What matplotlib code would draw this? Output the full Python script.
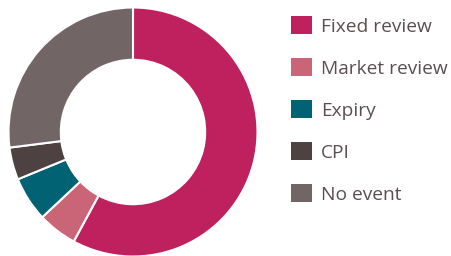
import matplotlib
matplotlib.use("Agg")
import matplotlib.pyplot as plt
from matplotlib.patches import Patch

categories = ["Fixed review", "Market review", "Expiry", "CPI", "No event"]
values = [57.9, 5.1, 5.8, 4.2, 27.0]
colors = ["#BE215E", "#C96577", "#006273", "#4D4142", "#726566"]

W, H = 451, 256
fig = plt.figure(figsize=(W / 100, H / 100), dpi=100)
cx, cy, r = 133, 132, 124.5
ax = fig.add_axes([(cx - r) / W, (H - cy - r) / H, 2 * r / W, 2 * r / H])
ax.pie(values, colors=colors, startangle=90, counterclock=False, radius=1,
       wedgeprops=dict(width=0.42, edgecolor="white", linewidth=1.5))
ax.set_xlim(-1, 1)
ax.set_ylim(-1, 1)
ax.set_aspect("equal")
ax.axis("off")

handles = [Patch(facecolor=c, edgecolor="none") for c in colors]
fs = 13.8
fig.legend(handles, categories, loc="upper left",
           bbox_to_anchor=(291 / W, 1 - 16 / H), frameon=False,
           prop=dict(family="Open Sans", size=fs),
           handlelength=1.1, handleheight=1.1, handletextpad=0.48,
           labelspacing=1.16, borderpad=0, borderaxespad=0,
           labelcolor="#5A4E50")

fig.savefig("out.png", dpi=100)
